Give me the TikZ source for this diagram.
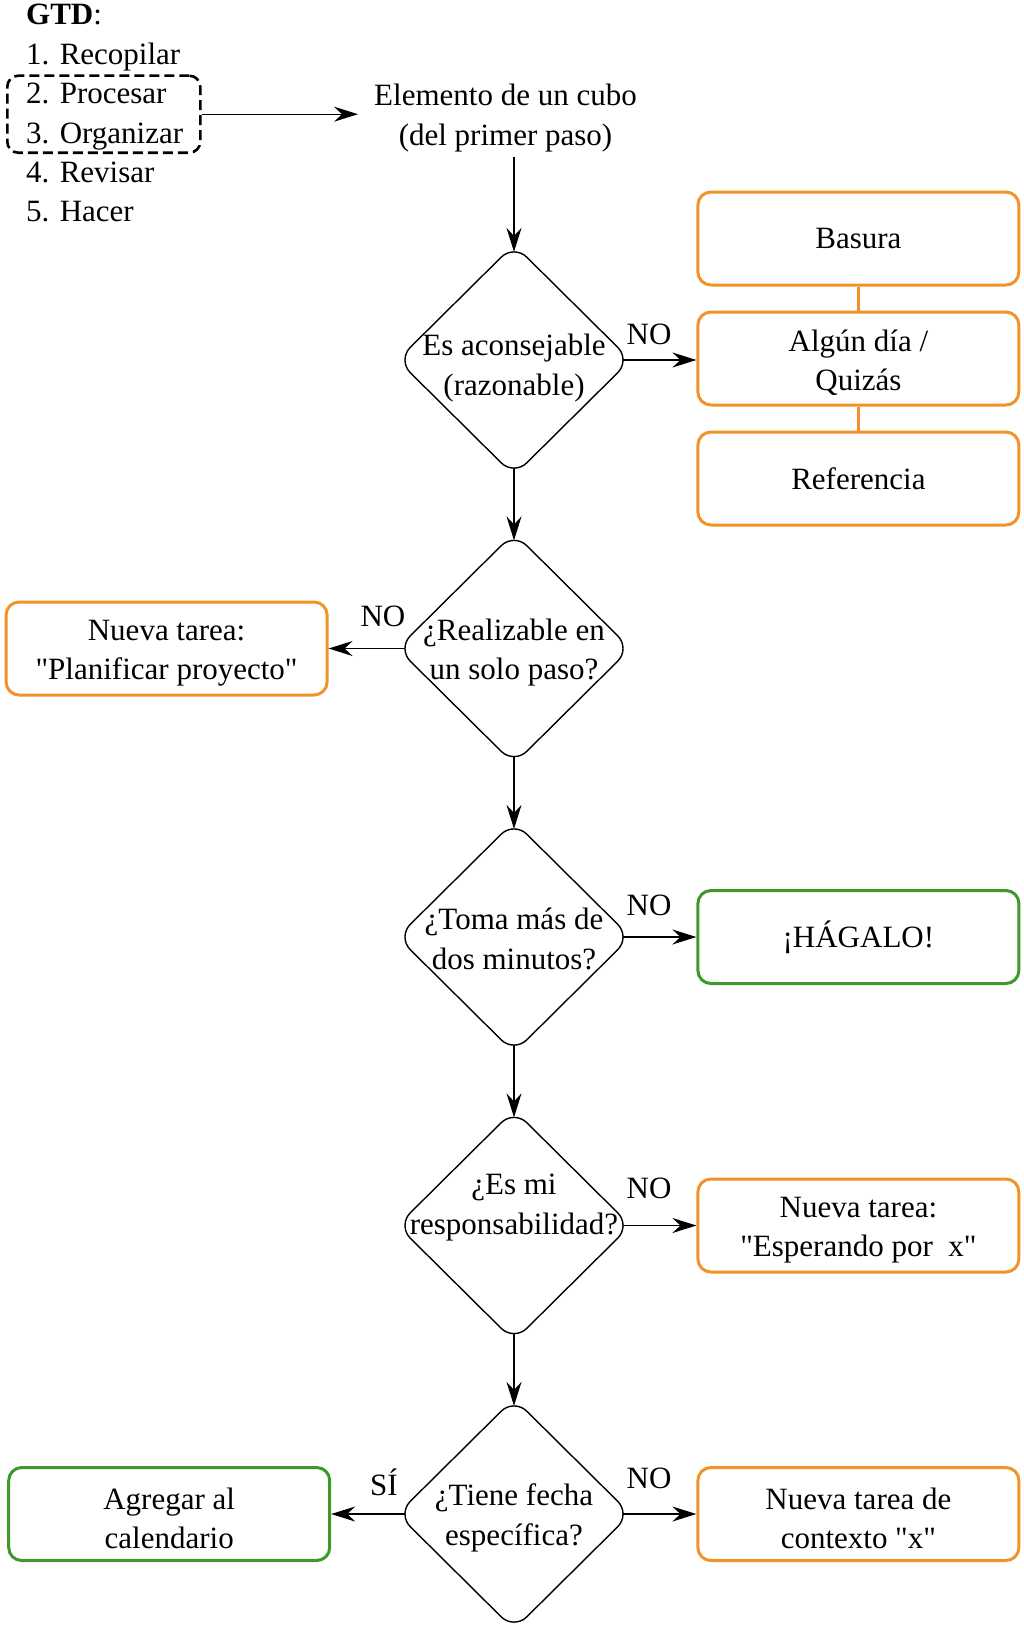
\documentclass[tikz,border=0pt]{standalone}
\usepackage{fontspec}
\setmainfont{Liberation Serif}[Ligatures=TeXOff]
\usetikzlibrary{shapes.geometric,arrows.meta}
\definecolor{gtdorange}{RGB}{243,146,38}
\definecolor{gtdgreen}{RGB}{61,153,42}
\newcommand\topfix{\rule{0pt}{30pt}}
\begin{document}
\begin{tikzpicture}[x=1pt,y=-1pt,
  every node/.style={font=\fontsize{31}{39.5}\selectfont},
  dia/.style={draw, shape=diamond, minimum width=233pt, minimum height=231pt, inner sep=0pt, outer sep=0pt, rounded corners=18pt, line width=1.4pt},
  dtext/.style={align=center, inner sep=0pt},
  obox/.style={draw=gtdorange, line width=3pt, rounded corners=13pt, minimum width=321pt, minimum height=93pt, align=center, inner sep=0pt},
  gbox/.style={obox, draw=gtdgreen},
  arr/.style={-{Stealth[length=24pt,width=15pt,inset=8pt]}, line width=1.3pt},
  outd/.style={shorten <=-7.4pt},
  ind/.style={shorten >=-7.4pt},
  lbl/.style={inner sep=0pt},
  item/.style={anchor=base west, inner sep=0pt},
  link/.style={draw=gtdorange, line width=3pt}]
\useasboundingbox (0,0) rectangle (1024,1627);

% GTD list
\node[item] (gtd) at (26,25) {\textbf{GTD}:};
\node[item] (s1) at (26,64.5) {1. Recopilar};
\node[item] (s2) at (26,104) {2. Procesar};
\node[item] (s3) at (26,143.5) {3. Organizar};
\node[item] (s4) at (26,182.5) {4. Revisar};
\node[item] (s5) at (26,221.5) {5. Hacer};
\node[draw, dash pattern=on 10pt off 5pt, line width=2.6pt, rounded corners=11pt,
      minimum width=193pt, minimum height=77pt, inner sep=0pt] (grp) at (103.8,114.2) {};

% start node
\node[align=center, inner xsep=16pt, inner ysep=5pt] (elem) at (505.5,118) {Elemento de un cubo\\(del primer paso)};

% diamonds
\node[dia] (d1) at (514,360) {};
\node[dia] (d2) at (514,648.5) {};
\node[dia] (d3) at (514,937) {};
\node[dia] (d4) at (514,1225.5) {};
\node[dia] (d5) at (514,1514) {};
\node[dtext] (t1) at (514,368) {Es aconsejable\\(razonable)};
\node[dtext] (t2) at (514,652.5) {¿Realizable en\\un solo paso?};
\node[dtext] (t3) at (514,939) {¿Toma más de\\dos minutos?};
\node[dtext] (t4) at (514,1207.5) {¿Es mi\\responsabilidad?};
\node[dtext] (t5) at (514,1518) {¿Tiene fecha\\específica?};

% boxes
\node[obox] (bas) at (858.4,238.5) {Basura};
\node[obox] (alg) at (858.4,358.5) {\topfix Algún día /\\Quizás};
\node[obox] (ref) at (858.4,478.5) {Referencia};
\node[obox] (plan) at (166.6,648.5) {\topfix Nueva tarea:\\"Planificar proyecto"};
\node[gbox] (hag) at (858.4,937) {¡HÁGALO!};
\node[obox] (esp) at (858.4,1225.5) {\topfix Nueva tarea:\\"Esperando por\ \ x"};
\node[gbox] (cal) at (169.2,1514) {\topfix Agregar al\\calendario};
\node[obox] (ctx) at (858.4,1514) {\topfix Nueva tarea de\\contexto "x"};

% links between orange boxes
\draw[link] (bas.south) -- (alg.north);
\draw[link] (alg.south) -- (ref.north);

% connectors
\draw[arr] (grp.east) -- (grp.east -| elem.west);
\draw[arr,ind] (elem.south -| d1.north) -- (d1.north);
\draw[arr,outd] (d1.east) -- (d1.east -| alg.west);
\draw[arr,outd,ind] (d1.south) -- (d2.north);
\draw[arr,outd] (d2.west) -- (plan.east);
\draw[arr,outd,ind] (d2.south) -- (d3.north);
\draw[arr,outd] (d3.east) -- (hag.west);
\draw[arr,outd,ind] (d3.south) -- (d4.north);
\draw[arr,outd] (d4.east) -- (esp.west);
\draw[arr,outd,ind] (d4.south) -- (d5.north);
\draw[arr,outd] (d5.west) -- (cal.east);
\draw[arr,outd] (d5.east) -- (ctx.west);

% labels
\node[lbl] (n1) at (649,334) {NO};
\node[lbl] (n2) at (383,616.6) {NO};
\node[lbl] (n3) at (649,905) {NO};
\node[lbl] (n4) at (649,1188.5) {NO};
\node[lbl] (n5) at (649,1478) {NO};
\node[lbl] (si) at (384,1482) {SÍ};
\end{tikzpicture}
\end{document}
